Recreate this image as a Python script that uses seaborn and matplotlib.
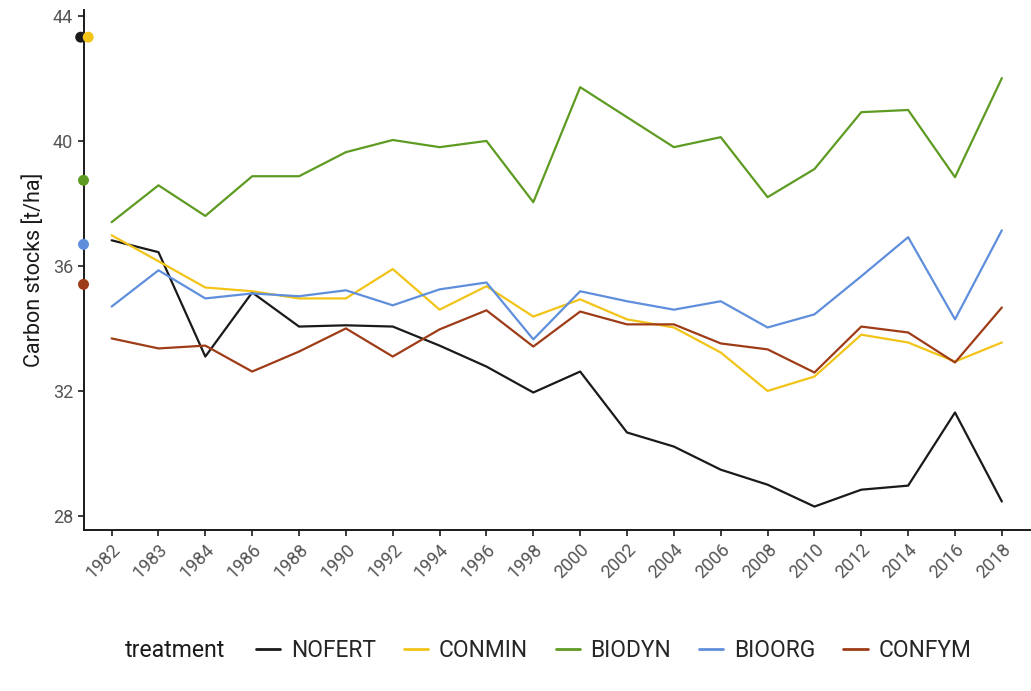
import pandas as pd
import matplotlib
matplotlib.use("Agg")
import matplotlib.pyplot as plt
import seaborn as sns
from matplotlib.lines import Line2D

# years (categorical axis)
years = ["1982", "1983", "1984", "1986", "1988", "1990", "1992", "1994", "1996", "1998",
         "2000", "2002", "2004", "2006", "2008", "2010", "2012", "2014", "2016", "2018"]

treatments = ["NOFERT", "CONMIN", "BIODYN", "BIOORG", "CONFYM"]

nofert = [36.82, 36.44, 33.10, 35.15, 34.06, 34.10, 34.06, 33.45, 32.78, 31.95,
          32.62, 30.67, 30.22, 29.48, 29.00, 28.30, 28.84, 28.97, 31.31, 28.46]
conmin = [36.98, 36.15, 35.31, 35.19, 34.96, 34.96, 35.90, 34.60, 35.35, 34.38,
          34.93, 34.29, 34.03, 33.23, 32.00, 32.46, 33.80, 33.55, 32.94, 33.55]
biodyn = [37.40, 38.58, 37.60, 38.87, 38.87, 39.64, 40.03, 39.80, 40.00, 38.04,
          41.72, 40.76, 39.80, 40.12, 38.20, 39.10, 40.92, 40.99, 38.84, 42.01]
bioorg = [34.70, 35.86, 34.96, 35.12, 35.03, 35.22, 34.74, 35.25, 35.47, 33.65,
          35.19, 34.87, 34.60, 34.87, 34.03, 34.45, 35.67, 36.92, 34.29, 37.14]
confym = [33.68, 33.36, 33.45, 32.62, 33.26, 34.00, 33.10, 33.97, 34.58, 33.42,
          34.54, 34.13, 34.13, 33.52, 33.33, 32.59, 34.06, 33.87, 32.91, 34.67]

# initial stocks shown as dots on the y axis
initial = [43.32, 43.32, 38.74, 36.69, 35.41]

colors = {"NOFERT": "#1a1a1a", "CONMIN": "#f2c418", "BIODYN": "#5e9b22",
          "BIOORG": "#5f8fdc", "CONFYM": "#9e3c17"}

df = pd.DataFrame({
    "year": years * 5,
    "stock": nofert + conmin + biodyn + bioorg + confym,
    "treatment": [t for t in treatments for _ in years],
})
df["x"] = df["year"].map({y: i for i, y in enumerate(years)})

sns.set_style("ticks")
plt.rcParams["font.family"] = ["Roboto", "DejaVu Sans"]

fig = plt.figure(figsize=(10.31, 6.91), dpi=100)
ax = fig.add_axes([0.081, 0.233, 0.918, 0.753])

sns.lineplot(data=df, x="x", y="stock", hue="treatment", hue_order=treatments,
             palette=colors, linewidth=1.6, legend=False, ax=ax)

init_x = [-0.66, -0.5, -0.6, -0.6, -0.6]
for t, v, xx in zip(treatments, initial, init_x):
    ax.scatter(xx, v, s=62, color=colors[t], zorder=5, clip_on=False, edgecolor="none")

ax.set_xlim(-0.6, 19.6)
ax.set_ylim(27.55, 44.2)
ax.set_xticks(range(len(years)))
ax.set_xticklabels(years, rotation=45, ha="right", rotation_mode="anchor")
ax.set_yticks([28, 32, 36, 40, 44])
ax.tick_params(axis="both", colors="#1a1a1a", labelcolor="#555555", labelsize=13,
               length=4, width=1.2)
ax.set_xlabel("")
ax.set_ylabel("Carbon stocks [t/ha]", fontsize=15.5, color="#1a1a1a", labelpad=6)
sns.despine(ax=ax)
for s in ["left", "bottom"]:
    ax.spines[s].set_linewidth(1.4)
    ax.spines[s].set_color("#1a1a1a")

# legend at the bottom, title inline
handles = [Line2D([], [], color=colors[t], linewidth=2) for t in treatments]
fig.text(0.121, 0.058, "treatment", fontsize=16.6, color="#1a1a1a", va="center")
fig.legend(handles, treatments, ncol=5, loc="center", bbox_to_anchor=(0.595, 0.058),
           frameon=False, fontsize=16.4, handlelength=1.06, columnspacing=1.23,
           handletextpad=0.47)

fig.savefig("out.png", dpi=100)
